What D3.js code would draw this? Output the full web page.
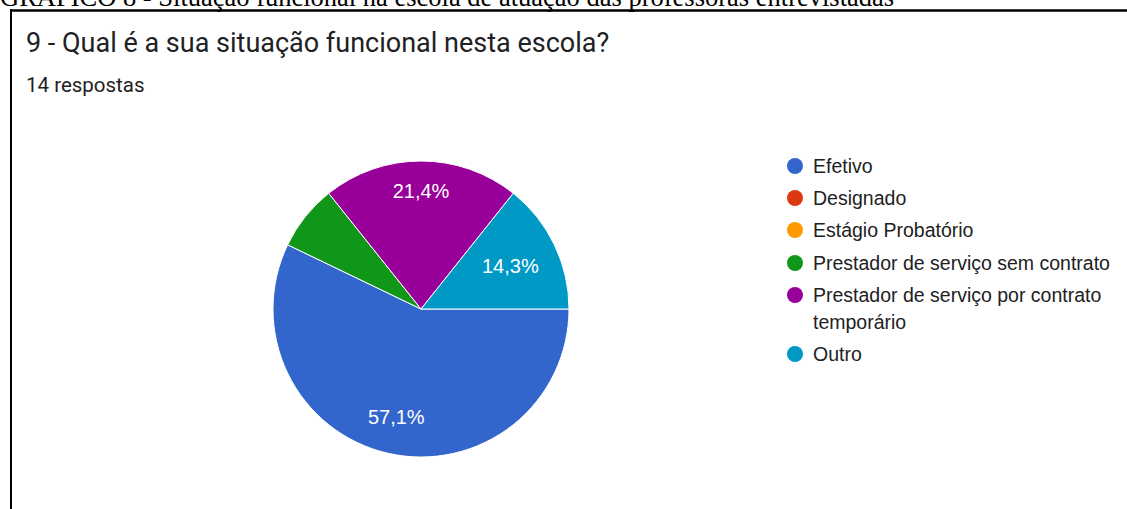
<!DOCTYPE html>
<html><head><meta charset="utf-8">
<script src="https://cdn.jsdelivr.net/npm/d3@7"></script>
<style>html,body{margin:0;padding:0;background:#fff;overflow:hidden}</style>
</head><body>
<svg id="c" width="1127" height="509"></svg>
<script>
const categories = ["Efetivo","Designado","Estágio Probatório","Prestador de serviço sem contrato","Prestador de serviço por contrato temporário","Outro"];
const legendLines = [["Efetivo"],["Designado"],["Estágio Probatório"],["Prestador de serviço sem contrato"],["Prestador de serviço por contrato","temporário"],["Outro"]];
const counts = [8,0,0,1,3,2];
const colors = ["#3366cc","#dc3912","#ff9900","#109618","#990099","#0099c6"];
const caption = "GRÁFICO 8 - Situação funcional na escola de atuação das professoras entrevistadas";
const title = "9 - Qual é a sua situação funcional nesta escola?";
const subtitle = "14 respostas";

const svg = d3.select("#c");
svg.append("text").attr("x",0).attr("y",6).attr("font-family","Liberation Serif, Times New Roman, serif")
  .attr("font-size",26.5).attr("fill","#000").text(caption);
svg.append("line").attr("x1",10).attr("x2",1127).attr("y1",10.5).attr("y2",10.5).attr("stroke","#000").attr("stroke-width",2.5);
svg.append("line").attr("x1",11).attr("x2",11).attr("y1",9).attr("y2",509).attr("stroke","#000").attr("stroke-width",2);

svg.append("text").attr("x",26).attr("y",52).attr("font-family","Roboto, Arial, sans-serif")
  .attr("font-size",27).attr("fill","#202124").text(title);
svg.append("text").attr("x",26).attr("y",92).attr("font-family","Roboto, Arial, sans-serif")
  .attr("font-size",20.5).attr("fill","#222").text(subtitle);

const total = d3.sum(counts);
const pie = d3.pie().sort(null).value(d=>d).startAngle(Math.PI/2).endAngle(Math.PI/2+2*Math.PI);
const arcs = pie(counts);
const r = 148;
const arc = d3.arc().innerRadius(0).outerRadius(r);
const g = svg.append("g").attr("transform","translate(421,309)");
g.selectAll("path").data(arcs).join("path")
  .attr("d",arc).attr("fill",(d,i)=>colors[i])
  .attr("stroke","#fff").attr("stroke-width",d=>d.value>0?1:0);
const labelFactor = [0.75,0.75,0.75,0.75,0.8,0.67];
g.selectAll("text.lbl").data(arcs.filter(d=>d.value/total>0.1)).join("text")
  .attr("class","lbl")
  .attr("transform",d=>{const lr=r*labelFactor[d.index];const c=d3.arc().innerRadius(lr).outerRadius(lr).centroid(d);return `translate(${c[0]},${c[1]})`;})
  .attr("text-anchor","middle").attr("dy","0.35em")
  .attr("font-family","Arial, Liberation Sans, sans-serif").attr("font-size",20).attr("fill","#fff")
  .text(d=>(d.value/total*100).toFixed(1).replace(".",",")+"%");

const leg = svg.append("g").attr("transform","translate(795,0)");
const rowY = [166,198,230,263,295,354];
legendLines.forEach((lines,i)=>{
  leg.append("circle").attr("cx",0).attr("cy",rowY[i]).attr("r",8).attr("fill",colors[i]);
  const t = leg.append("text").attr("x",18).attr("y",rowY[i])
    .attr("font-family","Arial, Liberation Sans, sans-serif").attr("font-size",19.5).attr("fill","#222");
  lines.forEach((ln,j)=>t.append("tspan").attr("x",18).attr("dy",j===0?"0.35em":"27px").text(ln));
});
</script>
</body></html>
